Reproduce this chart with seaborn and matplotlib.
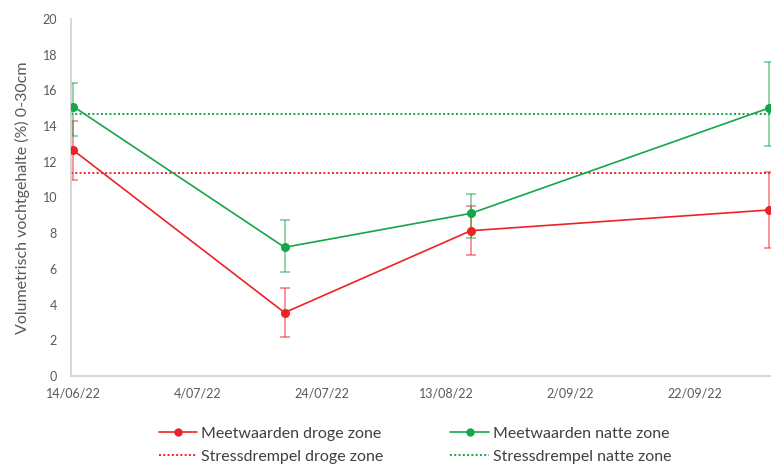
import matplotlib
matplotlib.use("Agg")
import matplotlib.pyplot as plt
import matplotlib.dates as mdates
from matplotlib.lines import Line2D
import seaborn as sns
import pandas as pd
import numpy as np

# ---- data ----
dates = ["2022-06-14", "2022-07-18", "2022-08-17", "2022-10-04"]
droge = [12.64, 3.55, 8.14, 9.30]
droge_low = [11.00, 2.17, 6.80, 7.17]
droge_high = [14.29, 4.93, 9.52, 11.43]
natte = [15.09, 7.21, 9.11, 15.01]
natte_low = [13.43, 5.84, 7.75, 12.89]
natte_high = [16.40, 8.74, 10.18, 17.59]
drempel_droge = 11.40
drempel_natte = 14.66

label_droge = "Meetwaarden droge zone"
label_natte = "Meetwaarden natte zone"
label_dr_droge = "Stressdrempel droge zone"
label_dr_natte = "Stressdrempel natte zone"
ylabel = "Volumetrisch vochtgehalte (%) 0-30cm"
tick_dates = ["2022-06-14", "2022-07-04", "2022-07-24", "2022-08-13", "2022-09-02", "2022-09-22"]
tick_labels = ["14/06/22", "4/07/22", "24/07/22", "13/08/22", "2/09/22", "22/09/22"]

RED = "#ec2227"
GREEN = "#14a64a"

sns.set_theme(style="white")
plt.rcParams["font.family"] = ["Lato", "DejaVu Sans"]

df = pd.DataFrame({
    "datum": pd.to_datetime(dates * 2),
    "waarde": droge + natte,
    "zone": [label_droge] * len(dates) + [label_natte] * len(dates),
})

fig = plt.figure(figsize=(7.71, 4.65), dpi=100)
ax = fig.add_axes([71 / 771, 89 / 465, 700 / 771, 357 / 465])

x = pd.to_datetime(dates)
for vals, lo, hi, col in [(droge, droge_low, droge_high, RED), (natte, natte_low, natte_high, GREEN)]:
    v = np.array(vals)
    yerr = np.vstack([v - np.array(lo), np.array(hi) - v])
    ax.errorbar(x, v, yerr=yerr, fmt="none", ecolor=col, alpha=0.6,
                elinewidth=1.1, capsize=3.5, capthick=1.1, zorder=2)

sns.lineplot(data=df, x="datum", y="waarde", hue="zone",
             palette={label_droge: RED, label_natte: GREEN},
             marker="o", markersize=6.5, markeredgewidth=0, linewidth=1.2,
             ax=ax, legend=False, zorder=3)

ax.axhline(drempel_droge, color=RED, linestyle=(0, (1, 1.2)), linewidth=1.4, zorder=1)
ax.axhline(drempel_natte, color=GREEN, linestyle=(0, (1, 1.2)), linewidth=1.4, zorder=1)

x0 = mdates.date2num(pd.Timestamp("2022-06-14")) - 0.4
x1 = mdates.date2num(pd.Timestamp("2022-10-04")) + 0.35
ax.set_xlim(x0, x1)
ax.set_ylim(0, 20)
ax.set_yticks(np.arange(0, 21, 2))
ax.set_xticks(pd.to_datetime(tick_dates))
ax.set_xticklabels(tick_labels)

ax.set_xlabel("")
ax.set_ylabel(ylabel, fontsize=11.5, color="#595959", labelpad=9)
ax.tick_params(axis="both", length=0, labelsize=9, labelcolor="#595959")
ax.tick_params(axis="y", pad=10)
ax.tick_params(axis="x", pad=8)

for s in ["top", "right"]:
    ax.spines[s].set_visible(False)
for s in ["left", "bottom"]:
    ax.spines[s].set_color("#d0d0d0")
    ax.spines[s].set_linewidth(1.2)

handles = [
    Line2D([], [], color=RED, marker="o", markersize=6, markeredgewidth=0, linewidth=1.2),
    Line2D([], [], color=RED, linestyle=(0, (1, 1.2)), linewidth=1.4),
    Line2D([], [], color=GREEN, marker="o", markersize=6, markeredgewidth=0, linewidth=1.2),
    Line2D([], [], color=GREEN, linestyle=(0, (1, 1.2)), linewidth=1.4),
]
labels = [label_droge, label_dr_droge, label_natte, label_dr_natte]
fig.legend(handles, labels, ncol=2, loc="center", bbox_to_anchor=(415 / 771, 1 - 445 / 465),
           frameon=False, fontsize=11.5, labelcolor="#404040", handlelength=2.4,
           handletextpad=0.25, columnspacing=4.2, labelspacing=0.55, borderpad=0)

fig.savefig("out.png", dpi=100)
